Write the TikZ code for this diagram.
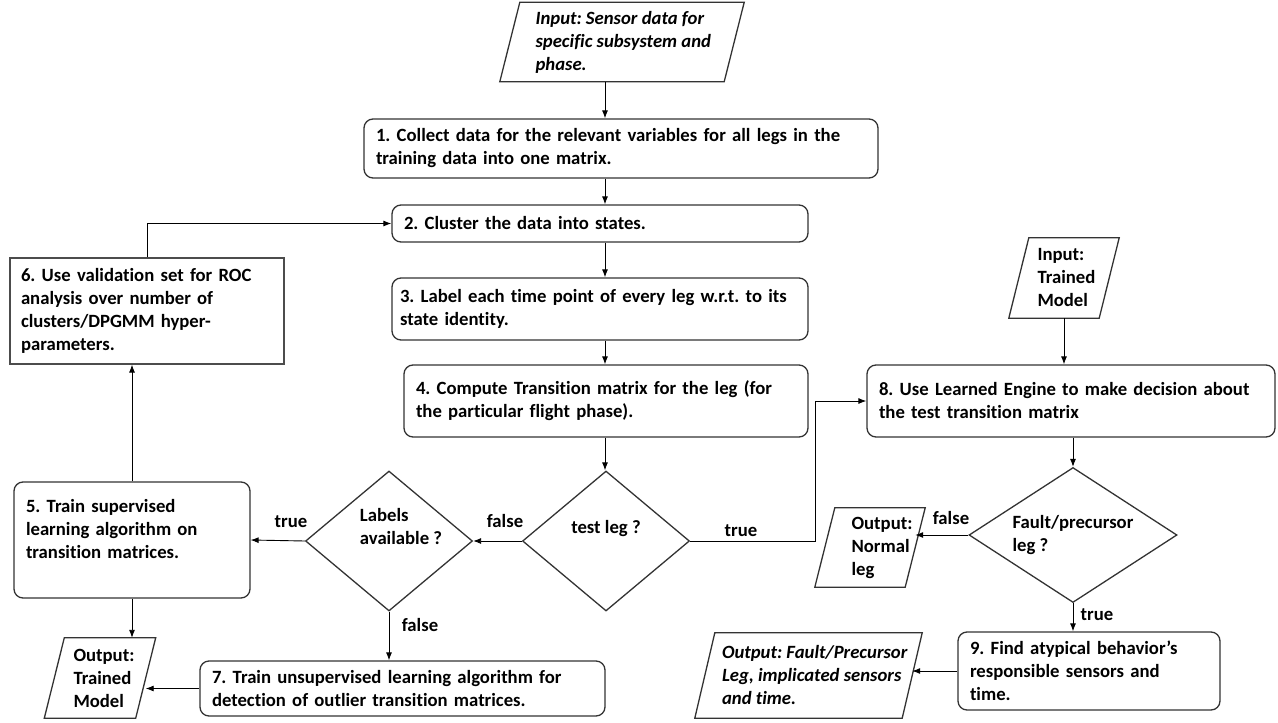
\documentclass[tikz,border=0pt]{standalone}
\usepackage{fontspec}
\setmainfont{Carlito}[Ligatures=NoCommon]
\usetikzlibrary{shapes.geometric,arrows.meta}

\newcommand{\flowfont}{\fontsize{18.7}{23}\selectfont\bfseries\frenchspacing}
% slanted outline round an input/output frame node
\newcommand{\ioframe}[1]{\draw[ioline] ([xshift=10pt]#1.north west) -- ([xshift=10pt]#1.north east)
  -- ([xshift=-10pt]#1.south east) -- ([xshift=-10pt]#1.south west) -- cycle;}

\tikzset{
  procbox/.style={draw=black!80, line width=1.3pt, rounded corners=9pt, align=left, inner xsep=12pt, font=\flowfont},
  plainbox/.style={draw=black!70, line width=1.2pt, align=left, inner xsep=11pt, font=\flowfont},
  iobox/.style={rectangle, inner sep=0pt},
  ioline/.style={draw=black!80, line width=1.3pt, line join=miter},
  decision/.style={draw=black!80, line width=1.3pt, diamond, inner sep=0pt},
  arr/.style={-{Latex[length=8pt,width=6pt]}, line width=0.9pt},
  lbl/.style={font=\flowfont, align=left}
}

\begin{document}
\begin{tikzpicture}[x=1pt,y=-1pt]
  \useasboundingbox (0,0) rectangle (1278,723);
  \coordinate (spine) at (605,0);

  % main column
  \node[iobox, minimum width=224, minimum height=79] (in1) at (622,42) {};
  \ioframe{in1}
  \node[lbl, font=\flowfont\itshape, anchor=west] (in1t) at ([xshift=-90pt]in1.center) {Input: Sensor data for\\specific subsystem and\\phase.};
  \node[procbox, text width=490, minimum height=59] (b1) at (621,148.5) {1. Collect data for the relevant variables for all legs in the\\training data into one matrix.};
  \node[procbox, text width=392, minimum height=37] (b2) at (600,223.5) {2. Cluster the data into states.};
  \node[procbox, inner xsep=8pt, text width=400, minimum height=62] (b3) at (600,309) {3. Label each time point of every leg w.r.t. to its\\state identity.};
  \node[procbox, text width=380, minimum height=72] (b4) at (606,401) {4. Compute Transition matrix for the leg (for\\the particular flight phase).};
  \node[decision, minimum width=167, minimum height=140] (d1) at (606,541) {};
  \node[lbl] (d1t) at ([yshift=12pt]d1.center) {test leg ?};

  % training branch
  \node[decision, minimum width=167, minimum height=140] (d2) at (389,541) {};
  \node[lbl] (d2t) at ([xshift=12pt,yshift=14pt]d2.center) {Labels\\available ?};
  \node[procbox, text width=212, minimum height=116] (b5) at (132,540) {5. Train supervised\\learning algorithm on\\transition matrices.\\\mbox{}};
  \node[plainbox, text width=252, minimum height=106] (b6) at (147,311) {6. Use validation set for ROC\\analysis over number of\\clusters/DPGMM hyper-\\parameters.};
  \node[procbox, text width=381, minimum height=55] (b7) at (402.5,688.5) {7. Train unsupervised learning algorithm for\\detection of outlier transition matrices.};
  \node[iobox, minimum width=91, minimum height=80] (o1) at (100,678) {};
  \ioframe{o1}
  \node[lbl, anchor=west] (o1t) at ([xshift=-30pt]o1.center) {Output:\\Trained\\Model};

  % test branch
  \node[iobox, minimum width=90, minimum height=80] (in2) at (1064,278) {};
  \ioframe{in2}
  \node[lbl, anchor=west] (in2t) at ([xshift=-30pt]in2.center) {Input:\\Trained\\Model};
  \node[procbox, text width=384, minimum height=72] (b8) at (1071,401) {8. Use Learned Engine to make decision about\\the test transition matrix};
  \node[decision, minimum width=208, minimum height=135] (d3) at (1073,535) {};
  \node[lbl] (d3t) at (d3.center) {Fault/precursor\\leg ?};
  \node[iobox, minimum width=90, minimum height=79] (o2) at (870,547.5) {};
  \ioframe{o2}
  \node[lbl, anchor=west] (o2t) at ([xshift=-22pt]o2.center) {Output:\\Normal\\leg};
  \node[procbox, text width=238, minimum height=78] (b9) at (1089,671) {9. Find atypical behavior’s\\responsible sensors and\\time.};
  \node[iobox, minimum width=207, minimum height=85] (o3) at (808.5,675.5) {};
  \ioframe{o3}
  \node[lbl, font=\flowfont\itshape, anchor=west] (o3t) at ([xshift=-90pt]o3.center) {Output: Fault/Precursor\\Leg, implicated sensors\\and time.};

  % branch labels
  \node[lbl] (f1) at (505,521) {false};
  \node[lbl] (t1) at (291,522) {true};
  \node[lbl] (f2) at (420,625) {false};
  \node[lbl] (t2) at (741,531) {true};
  \node[lbl] (f3) at (951,518) {false};
  \node[lbl] (t3) at (1097,615) {true};

  % connectors
  \draw[arr] (in1.south -| spine) -- (b1.north -| spine);
  \draw[arr] (b1.south -| spine) -- (b2.north -| spine);
  \draw[arr] (b2.south -| spine) -- (b3.north -| spine);
  \draw[arr] (b3.south -| spine) -- (b4.north -| spine);
  \draw[arr] (b4.south -| spine) -- (d1.north -| spine);
  \draw[arr] (d1.west) -- (d2.east);
  \draw[arr] (d2.west) -- (b5.east);
  \draw[arr] (d2.south) -- (b7.north -| d2.south);
  \draw[arr] (b7.west) -- (b7.west -| o1.east);
  \draw[arr] (b5.south) -- (b5.south |- o1.north);
  \draw[arr] (b5.north) -- (b5.north |- b6.south);
  \draw[arr] (b6.north) |- (b2.west);
  \draw[arr] (d1.east) -- ++(125,0) |- (b8.west);
  \draw[arr] (in2.south) -- (in2.south |- b8.north);
  \draw[arr] (b8.south -| d3.north) -- (d3.north);
  \draw[arr] (d3.west) -- (d3.west -| o2.east);
  \draw[arr] (d3.south) -- (d3.south |- b9.north);
  \draw[arr] (b9.west) -- (b9.west -| o3.east);
\end{tikzpicture}
\end{document}
